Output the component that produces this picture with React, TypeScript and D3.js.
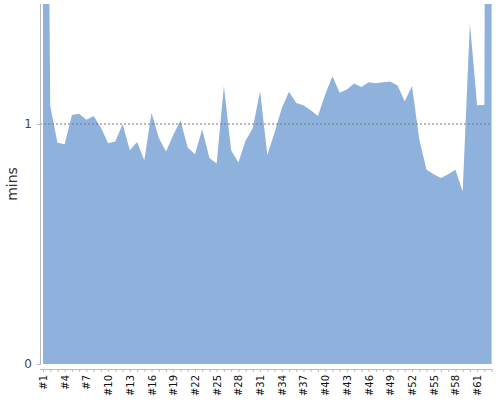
import { useEffect, useRef } from "react";
import * as d3 from "d3";

// minutes per run, #1..#63 (first and last run off the top of the chart)
const runs = d3.range(1, 64).map((i) => `#${i}`);
const mins = [
  5.0, 1.075, 0.922, 0.916, 1.037, 1.043, 1.018, 1.033, 0.985, 0.92,
  0.927, 1.0, 0.891, 0.925, 0.849, 1.047, 0.943, 0.885, 0.954, 1.015,
  0.902, 0.874, 0.978, 0.858, 0.835, 1.158, 0.891, 0.84, 0.93, 0.983,
  1.137, 0.871, 0.964, 1.066, 1.134, 1.088, 1.078, 1.057, 1.033, 1.123,
  1.199, 1.13, 1.144, 1.169, 1.154, 1.174, 1.17, 1.174, 1.177, 1.16,
  1.095, 1.158, 0.936, 0.809, 0.791, 0.775, 0.791, 0.809, 0.719, 1.42,
  1.078, 1.079, 10.0,
];
const yTicks = [0, 1];
const refLine = 1;

export default function App() {
  const svgRef = useRef<SVGSVGElement>(null);

  useEffect(() => {
    if (!svgRef.current) return;
    const width = 500;
    const height = 400;
    const top = 4;
    const bottom = 364;
    const left = 40;
    const right = 492;

    const svg = d3.select(svgRef.current).attr("width", width).attr("height", height);
    svg.selectAll("*").remove();

    const x = d3.scalePoint<string>().domain(runs).range([43, 491.6]);
    const y = d3.scaleLinear().domain([0, 1.5]).range([bottom, top]);

    svg
      .append("defs")
      .append("clipPath")
      .attr("id", "plot")
      .append("rect")
      .attr("x", left)
      .attr("y", top)
      .attr("width", right - left)
      .attr("height", bottom - top);

    const area = d3
      .area<number>()
      .x((_, i) => x(runs[i])!)
      .y0(y(0))
      .y1((d) => y(d));

    svg
      .append("path")
      .datum(mins)
      .attr("clip-path", "url(#plot)")
      .attr("fill", "#8fb2dc")
      .attr("d", area);

    // reference line at 1 min
    svg
      .append("line")
      .attr("x1", left)
      .attr("x2", right)
      .attr("y1", y(refLine))
      .attr("y2", y(refLine))
      .attr("stroke", "#777")
      .attr("stroke-width", 1)
      .attr("stroke-dasharray", "2,2");

    // Y axis
    const yAxis = svg
      .append("g")
      .attr("transform", `translate(${left},0)`)
      .call(d3.axisLeft(y).tickValues(yTicks).tickSize(3).tickFormat(d3.format("d")));
    yAxis.select(".domain").attr("stroke", "#bbb").attr("d", `M0.5,${top}V${bottom + 1}`);
    yAxis.selectAll(".tick line").attr("stroke", "#bbb");
    yAxis
      .selectAll(".tick text")
      .attr("fill", "#444")
      .attr("font-size", 12)
      .attr("font-family", "DejaVu Sans")
      .attr("x", -8);

    // X axis
    const xAxis = svg
      .append("g")
      .attr("transform", `translate(0,369)`)
      .call(
        d3
          .axisBottom(x)
          .tickSize(3)
          .tickFormat((d, i) => (i % 3 === 0 ? d : ""))
      );
    xAxis.select(".domain").attr("stroke", "#bbb").attr("d", `M${left},0.5H${right}`);
    xAxis.selectAll(".tick line").attr("stroke", "#bbb");
    xAxis
      .selectAll(".tick text")
      .attr("fill", "#111")
      .attr("font-size", 10)
      .attr("font-family", "DejaVu Sans")
      .attr("transform", "rotate(-90)")
      .attr("text-anchor", "end")
      .attr("x", -6)
      .attr("y", 0)
      .attr("dy", "0.35em");

    svg
      .append("text")
      .attr("transform", `translate(17,${(top + bottom) / 2}) rotate(-90)`)
      .attr("text-anchor", "middle")
      .attr("fill", "#333")
      .attr("font-size", 14)
      .attr("font-family", "DejaVu Sans")
      .text("mins");
  }, []);

  return (
    <div style={{ position: "absolute", left: 0, top: 0 }}>
      <svg ref={svgRef} />
    </div>
  );
}
